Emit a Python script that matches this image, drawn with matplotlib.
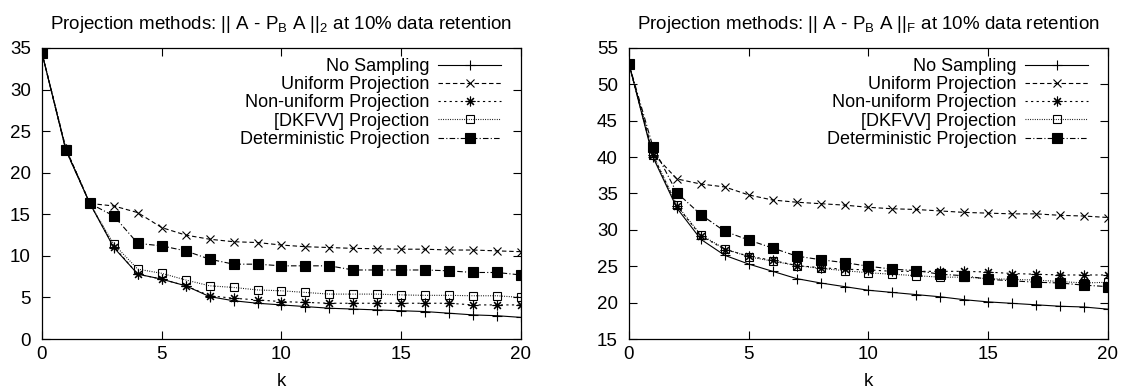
import matplotlib
matplotlib.use("Agg")
import matplotlib.pyplot as plt

plt.rcParams["font.family"] = ["Liberation Sans", "DejaVu Sans"]
plt.rcParams["mathtext.fontset"] = "custom"
plt.rcParams["mathtext.rm"] = "Liberation Sans"

k = list(range(21))

labels = ["No Sampling", "Uniform Projection", "Non-uniform Projection",
          "[DKFVV] Projection", "Deterministic Projection"]

# spectral norm (left)
spec_none = [34.4, 22.7, 16.3, 11.0, 7.8, 7.2, 6.4, 5.1, 4.6, 4.3, 4.1, 3.9,
             3.7, 3.6, 3.5, 3.4, 3.3, 3.1, 2.9, 2.8, 2.6]
spec_unif = [34.4, 22.9, 16.3, 16.0, 15.2, 13.4, 12.5, 12.0, 11.7, 11.6, 11.3,
             11.1, 11.0, 10.9, 10.85, 10.8, 10.8, 10.7, 10.7, 10.6, 10.5]
spec_nonu = [34.4, 22.8, 16.3, 11.1, 7.8, 7.2, 6.4, 5.2, 4.9, 4.7, 4.5, 4.4,
             4.3, 4.3, 4.3, 4.3, 4.3, 4.3, 4.1, 4.1, 4.1]
spec_dk = [34.4, 22.9, 16.3, 11.4, 8.4, 7.9, 7.1, 6.4, 6.2, 5.9, 5.8, 5.6,
           5.4, 5.4, 5.4, 5.3, 5.25, 5.25, 5.2, 5.2, 5.0]
spec_det = [34.4, 22.7, 16.3, 14.8, 11.5, 11.2, 10.6, 9.6, 9.0, 9.0, 8.8, 8.8,
            8.8, 8.3, 8.3, 8.3, 8.3, 8.2, 8.0, 8.0, 7.7]

# frobenius norm (right)
frob_none = [52.8, 40.0, 33.0, 28.7, 26.5, 25.3, 24.3, 23.3, 22.7, 22.2, 21.7,
             21.4, 21.1, 20.8, 20.4, 20.1, 19.9, 19.7, 19.5, 19.4, 19.1]
frob_unif = [52.8, 40.5, 37.0, 36.3, 35.9, 34.8, 34.1, 33.8, 33.6, 33.4, 33.1,
             32.9, 32.8, 32.6, 32.4, 32.3, 32.2, 32.2, 32.0, 31.9, 31.7]
frob_nonu = [52.8, 40.3, 33.3, 29.2, 27.3, 26.4, 25.8, 25.1, 24.8, 24.6, 24.5,
             24.3, 24.3, 24.3, 24.3, 24.2, 24.0, 23.9, 23.8, 23.8, 23.8]
frob_dk = [52.8, 40.3, 33.4, 29.3, 27.4, 26.3, 25.7, 25.1, 24.7, 24.4, 24.1,
           23.9, 23.7, 23.5, 23.5, 23.3, 23.2, 23.1, 22.9, 22.7, 22.8]
frob_det = [52.8, 41.4, 35.1, 32.1, 29.8, 28.6, 27.5, 26.4, 25.9, 25.5, 25.0,
            24.6, 24.4, 23.9, 23.7, 23.2, 23.0, 22.8, 22.7, 22.4, 22.2]

styles = [
    dict(ls="-", marker="+", ms=7, mfc="black"),
    dict(ls=(0, (4, 2.5)), marker="x", ms=6, mfc="black"),
    dict(ls=(0, (2, 3)), marker=(8, 2, 0), ms=7, mfc="black"),
    dict(ls=(0, (0.8, 1.3)), marker="s", ms=6, mfc="none"),
    dict(ls=(0, (5, 2, 1, 2)), marker="s", ms=6.5, mfc="black"),
]


def draw(ax, series, ylim, norm):
    for vals, lab, st in zip(series, labels, styles):
        ax.plot(k, vals, color="black", lw=0.8, mec="black", mew=0.8,
                label=lab, **st)
    ax.set_xlim(0, 20)
    ax.set_ylim(*ylim)
    ax.set_xticks(range(0, 21, 5))
    ax.set_yticks(range(ylim[0], ylim[1] + 1, 5))
    ax.tick_params(direction="in", length=6, width=0.8, top=True, right=True,
                   labelsize=13.5)
    ax.tick_params(axis="y", pad=8)
    ax.tick_params(axis="x", pad=5)
    ax.set_xlabel("k", fontsize=13.5, labelpad=7)
    ax.set_title(r"Projection methods: || A - P$_\mathregular{B}$ A ||$_\mathregular{" + norm + "}$ at 10% data retention",
                 fontsize=13.5, pad=14)
    for s in ax.spines.values():
        s.set_linewidth(0.9)
    ax.legend(loc="upper right", frameon=False, markerfirst=False,
              handlelength=3.5, labelspacing=0.07, borderaxespad=0.15,
              handletextpad=0.5, fontsize=13, bbox_to_anchor=(0.98, 1.0))


fig = plt.figure(figsize=(11.22, 3.92), dpi=100)
ax1 = fig.add_axes([0.0374, 0.1352, 0.4269, 0.7424])
ax2 = fig.add_axes([0.5606, 0.1352, 0.4269, 0.7424])

draw(ax1, [spec_none, spec_unif, spec_nonu, spec_dk, spec_det], (0, 35), "2")
draw(ax2, [frob_none, frob_unif, frob_nonu, frob_dk, frob_det], (15, 55), "F")

fig.savefig("out.png", dpi=100)
